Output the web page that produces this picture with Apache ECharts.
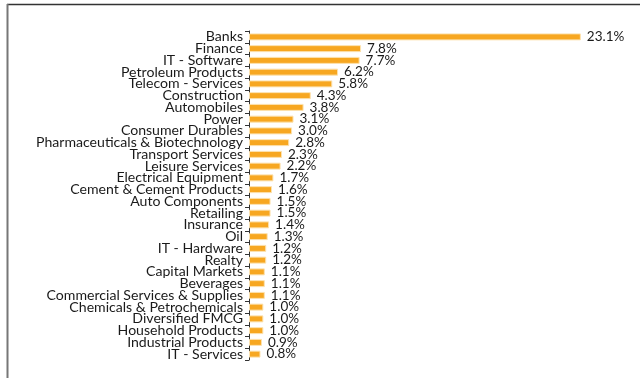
<!DOCTYPE html>
<html>
<head>
<meta charset="utf-8">
<script src="https://cdn.jsdelivr.net/npm/echarts@6/dist/echarts.min.js"></script>
<style>
  html, body { margin: 0; padding: 0; background: #fff; }
  #chart { width: 640px; height: 378px; }
</style>
</head>
<body>
<div id="chart"></div>
<script>
// Sector weights, top to bottom
const sectors = [
  'Banks', 'Finance', 'IT - Software', 'Petroleum Products', 'Telecom - Services',
  'Construction', 'Automobiles', 'Power', 'Consumer Durables',
  'Pharmaceuticals & Biotechnology', 'Transport Services', 'Leisure Services',
  'Electrical Equipment', 'Cement & Cement Products', 'Auto Components', 'Retailing',
  'Insurance', 'Oil', 'IT - Hardware', 'Realty', 'Capital Markets', 'Beverages',
  'Commercial Services & Supplies', 'Chemicals & Petrochemicals', 'Diversified FMCG',
  'Household Products', 'Industrial Products', 'IT - Services'
];
const weights = [
  23.1, 7.8, 7.7, 6.2, 5.8, 4.3, 3.8, 3.1, 3.0, 2.8, 2.3, 2.2, 1.7, 1.6, 1.5, 1.5,
  1.4, 1.3, 1.2, 1.2, 1.1, 1.1, 1.1, 1.0, 1.0, 1.0, 0.9, 0.8
];

const FONT = 'Lato, "Open Sans", sans-serif';
const chart = echarts.init(document.getElementById('chart'), null, { renderer: 'canvas' });

chart.setOption({
  animation: false,
  backgroundColor: '#fff',
  grid: { left: 249, top: 31, width: 357, height: 329 },
  xAxis: {
    type: 'value', min: 0, max: 24.85, show: false
  },
  yAxis: {
    type: 'category',
    data: sectors,
    inverse: true,
    axisLine: { show: true, lineStyle: { color: '#333', width: 1 } },
    axisTick: { show: true, length: 4, lineStyle: { color: '#333' } },
    axisLabel: {
      margin: 6, color: '#1a1a1a', fontSize: 14.1, fontFamily: FONT, interval: 0
    }
  },
  series: [{
    type: 'bar',
    data: weights,
    barWidth: 7,
    itemStyle: { color: '#F7A721', borderColor: '#FCE2B0', borderWidth: 1 },
    label: {
      show: true, position: 'right', distance: 6,
      color: '#1a1a1a', fontSize: 13.5, fontFamily: FONT,
      formatter: p => p.value.toFixed(1) + '%'
    }
  }],
  graphic: [
    { type: 'line', shape: { x1: 7, y1: 4.5, x2: 640, y2: 4.5 }, style: { stroke: '#333', lineWidth: 1.5 } },
    { type: 'line', shape: { x1: 7.5, y1: 4, x2: 7.5, y2: 378 }, style: { stroke: '#777', lineWidth: 2 } }
  ]
});
</script>
</body>
</html>
